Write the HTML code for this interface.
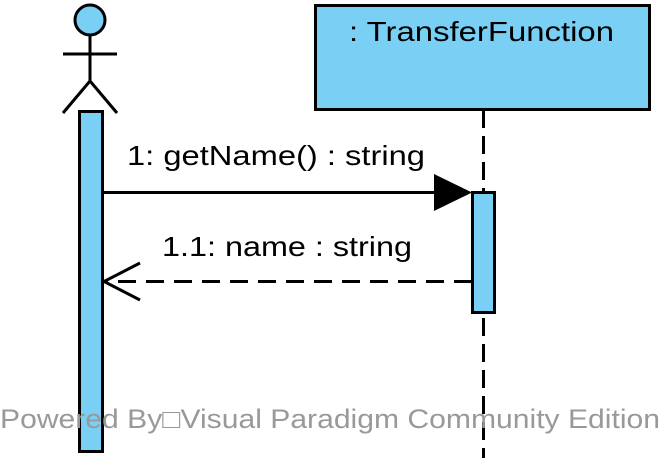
<!DOCTYPE html>
<html><head><meta charset="utf-8"><style>
html,body{margin:0;padding:0;background:#fff;}
svg{display:block;}
text{font-family:"Liberation Sans",sans-serif;}
</style></head><body>
<svg width="666" height="468" viewBox="0 0 666 468" xmlns="http://www.w3.org/2000/svg">
<rect x="0" y="0" width="666" height="468" fill="#fff"/>
<circle cx="90" cy="20" r="15" fill="#7ACFF5" stroke="#000" stroke-width="3"/>
<line x1="90" y1="35" x2="90" y2="81" stroke="#000" stroke-width="3"/>
<line x1="63" y1="54" x2="117" y2="54" stroke="#000" stroke-width="3"/>
<line x1="90" y1="81" x2="63" y2="113" stroke="#000" stroke-width="3"/>
<line x1="90" y1="81" x2="117" y2="113" stroke="#000" stroke-width="3"/>
<rect x="79.5" y="111.5" width="23" height="340" fill="#7ACFF5" stroke="#000" stroke-width="3"/>
<line x1="483.5" y1="110" x2="483.5" y2="458" stroke="#000" stroke-width="3" stroke-dasharray="18,8"/>
<rect x="315.5" y="5.5" width="334" height="104" fill="#7ACFF5" stroke="#000" stroke-width="3"/>
<text x="349" y="41" font-size="28" textLength="265" lengthAdjust="spacingAndGlyphs">: TransferFunction</text>
<rect x="472.5" y="192.5" width="22" height="120" fill="#7ACFF5" stroke="#000" stroke-width="3"/>
<line x1="102" y1="192.5" x2="436" y2="192.5" stroke="#000" stroke-width="3"/>
<polygon points="434,174 472,192.5 434,211" fill="#000"/>
<text x="127" y="165" font-size="28" textLength="298" lengthAdjust="spacingAndGlyphs">1: getName() : string</text>
<line x1="472" y1="281.5" x2="104" y2="281.5" stroke="#000" stroke-width="3" stroke-dasharray="18,10"/>
<polyline points="140,263 104,281.5 140,300" fill="none" stroke="#000" stroke-width="3"/>
<text x="162" y="256" font-size="28" textLength="250" lengthAdjust="spacingAndGlyphs">1.1: name : string</text>
<text x="0" y="428" font-size="27" fill="#999" textLength="660" lengthAdjust="spacingAndGlyphs">Powered By□Visual Paradigm Community Edition</text>
</svg>
</body></html>
